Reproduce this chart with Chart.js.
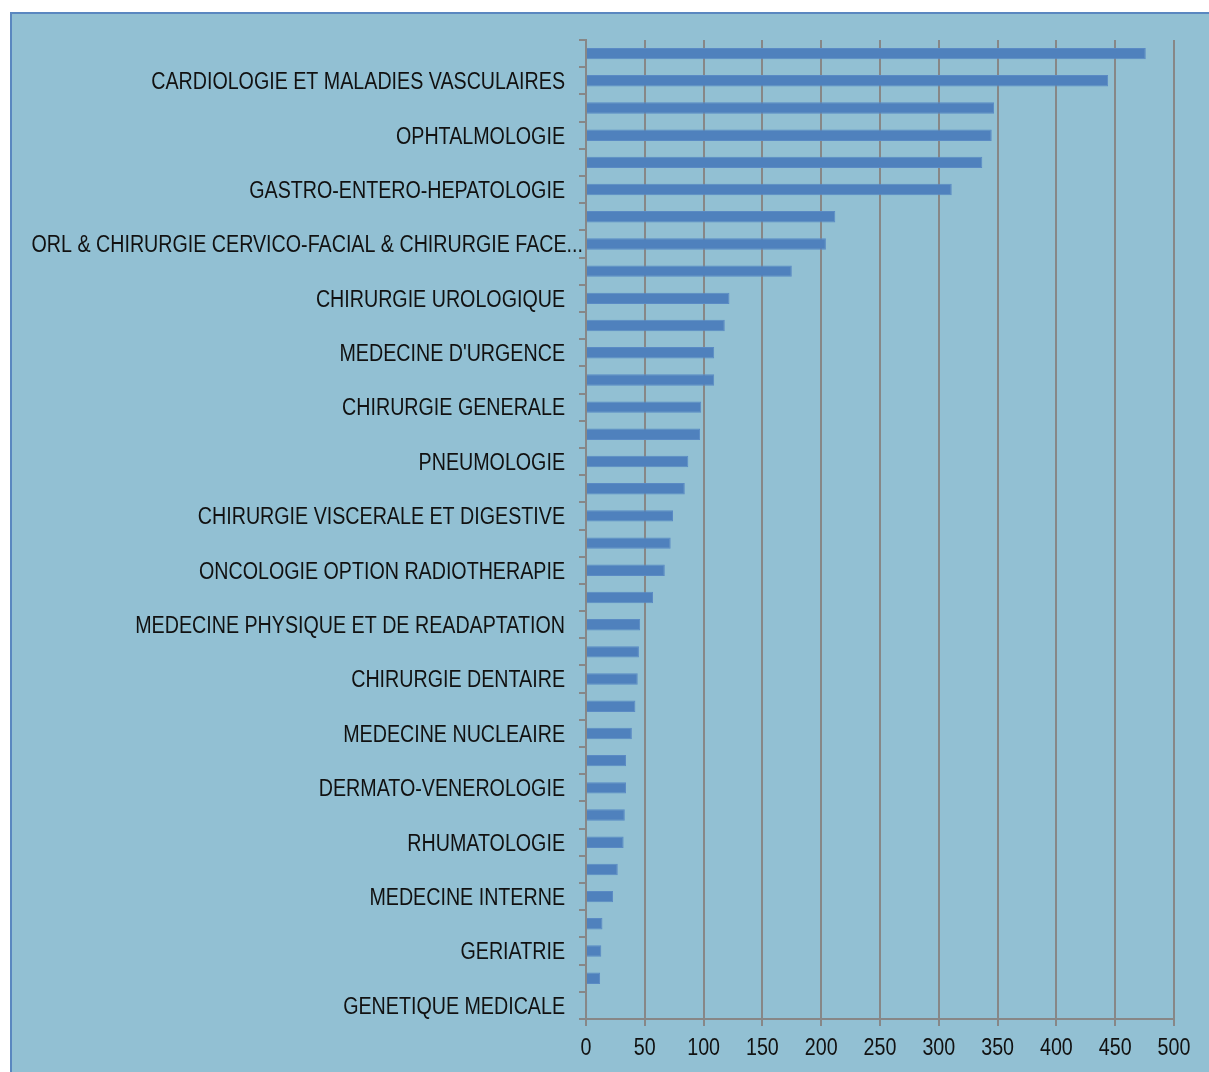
<!DOCTYPE html>
<html>
<head>
<meta charset="utf-8">
<script src="https://cdn.jsdelivr.net/npm/chart.js@4.4.0/dist/chart.umd.min.js"></script>
<style>
  html, body { margin: 0; padding: 0; background: #ffffff; }
  body { width: 1209px; height: 1072px; position: relative; overflow: hidden; }
  #frame {
    position: absolute; left: 10px; top: 12px; width: 1220px; height: 1080px;
    background: #92C0D3; border-left: 2px solid #5A87C0; border-top: 2px solid #5A87C0;
    box-sizing: border-box;
  }
  #wrap { position: absolute; left: 0; top: 0; width: 1209px; height: 1072px; }
</style>
</head>
<body>
<div id="frame"></div>
<div id="wrap"><canvas id="chart" width="1209" height="1072"></canvas></div>
<script>
// Specialties, listed top to bottom; only every other one carries a printed label
const specialtyLabels = [
  '', 'CARDIOLOGIE ET MALADIES VASCULAIRES',
  '', 'OPHTALMOLOGIE',
  '', 'GASTRO-ENTERO-HEPATOLOGIE',
  '', 'ORL & CHIRURGIE CERVICO-FACIAL & CHIRURGIE FACE...',
  '', 'CHIRURGIE UROLOGIQUE',
  '', "MEDECINE D'URGENCE",
  '', 'CHIRURGIE GENERALE',
  '', 'PNEUMOLOGIE',
  '', 'CHIRURGIE VISCERALE ET DIGESTIVE',
  '', 'ONCOLOGIE OPTION RADIOTHERAPIE',
  '', 'MEDECINE PHYSIQUE ET DE READAPTATION',
  '', 'CHIRURGIE DENTAIRE',
  '', 'MEDECINE NUCLEAIRE',
  '', 'DERMATO-VENEROLOGIE',
  '', 'RHUMATOLOGIE',
  '', 'MEDECINE INTERNE',
  '', 'GERIATRIE',
  '', 'GENETIQUE MEDICALE'
];

// Count per specialty, same order as the labels above
const counts = [
  476, 444,
  347, 345,
  337, 311,
  212, 204,
  175, 122,
  118, 109,
  109, 98,
  97, 87,
  84, 74,
  72, 67,
  57, 46,
  45, 44,
  42, 39,
  34, 34,
  33, 32,
  27, 23,
  14, 13,
  12, 1
];

// Value axis ticks
const xTickMin = 0;
const xTickMax = 500;
const xTickStep = 50;

const gridGrey = '#878787';
const labelFont = { family: "'Liberation Sans Narrow', 'Arial Narrow', 'Liberation Sans', Arial, sans-serif", size: 23 };

// Axis labels are set in a narrow face: squeeze each tick label horizontally
// around its own anchor point while the scale draws it. A clipped label lets
// its trailing dots run into the gap before the axis.
const NARROW = 0.855;
const narrowTickLabels = {
  id: 'narrowTickLabels',
  afterLayout(chart) {
    for (const scale of Object.values(chart.scales)) {
      if (scale.$narrow) continue;
      const draw = scale.drawLabels.bind(scale);
      const isY = scale.axis === 'y';
      scale.drawLabels = function (area) {
        const ctx = this.ctx;
        const fill = ctx.fillText;
        ctx.fillText = function (text, x, y) {
          const dx = isY && String(text).endsWith('...') ? 18 : 0;
          this.save();
          this.scale(NARROW, 1);
          fill.call(this, text, (x + dx) / NARROW, y + (isY ? 2 : 0));
          this.restore();
        };
        try { draw(area); } finally { delete ctx.fillText; }
      };
      scale.$narrow = true;
    }
  }
};

new Chart(document.getElementById('chart'), {
  type: 'bar',
  data: {
    labels: specialtyLabels,
    datasets: [{
      data: counts,
      backgroundColor: '#4F81BD',
      borderColor: '#5A8AC4',
      borderWidth: 1,
      categoryPercentage: 1.0,
      barPercentage: 0.42
    }]
  },
  options: {
    indexAxis: 'y',
    responsive: false,
    animation: false,
    layout: { padding: { left: 0, top: 40, right: 35, bottom: 0 } },
    plugins: { legend: { display: false }, tooltip: { enabled: true } },
    scales: {
      x: {
        min: xTickMin,
        max: xTickMax,
        ticks: {
          stepSize: xTickStep,
          color: '#111111',
          font: labelFont,
          padding: 9
        },
        grid: {
          color: gridGrey,
          lineWidth: 2,
          drawTicks: true,
          tickLength: 7
        },
        border: { display: true, color: gridGrey, width: 2 },
        afterFit: (scale) => { scale.height = 53; }
      },
      y: {
        ticks: {
          autoSkip: false,
          color: '#111111',
          font: labelFont,
          padding: 14
        },
        grid: {
          color: gridGrey,
          lineWidth: 2,
          drawOnChartArea: false,
          drawTicks: true,
          tickLength: 7,
          offset: true
        },
        border: { display: true, color: gridGrey, width: 2 },
        afterFit: (scale) => { scale.width = 586; }
      }
    }
  },
  plugins: [narrowTickLabels]
});
</script>
</body>
</html>
